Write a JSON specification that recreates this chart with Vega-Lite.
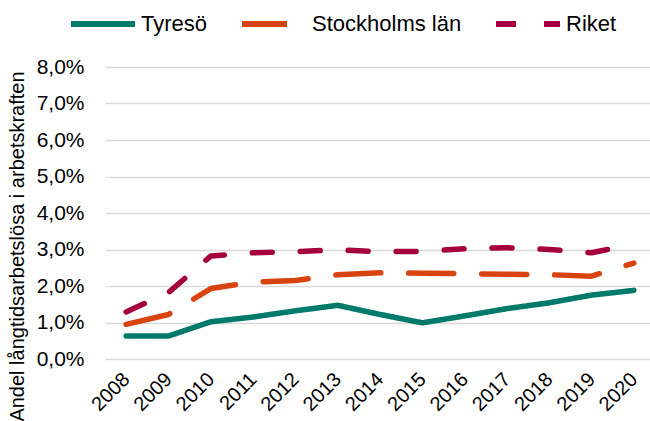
{
  "$schema": "https://vega.github.io/schema/vega-lite/v6.json",
  "autosize": {"type": "none"},
  "width": 550,
  "height": 292,
  "padding": {"left": 105, "top": 67, "right": 0, "bottom": 62},
  "background": "white",
  "config": {
    "font": "Liberation Sans",
    "view": {"stroke": null},
    "locale": {
      "number": {"decimal": ",", "thousands": " ", "grouping": [3], "currency": ["", " kr"]}
    }
  },
  "data": {
    "values": [
      {"year": "2008", "region": "Tyresö", "value": 0.0063},
      {"year": "2009", "region": "Tyresö", "value": 0.0063},
      {"year": "2010", "region": "Tyresö", "value": 0.0102},
      {"year": "2011", "region": "Tyresö", "value": 0.0115},
      {"year": "2012", "region": "Tyresö", "value": 0.0132},
      {"year": "2013", "region": "Tyresö", "value": 0.0147},
      {"year": "2014", "region": "Tyresö", "value": 0.0122},
      {"year": "2015", "region": "Tyresö", "value": 0.0099},
      {"year": "2016", "region": "Tyresö", "value": 0.0118},
      {"year": "2017", "region": "Tyresö", "value": 0.0138},
      {"year": "2018", "region": "Tyresö", "value": 0.0154},
      {"year": "2019", "region": "Tyresö", "value": 0.0175},
      {"year": "2020", "region": "Tyresö", "value": 0.0188},
      {"year": "2008", "region": "Stockholms län", "value": 0.0095},
      {"year": "2009", "region": "Stockholms län", "value": 0.0122},
      {"year": "2010", "region": "Stockholms län", "value": 0.0193},
      {"year": "2011", "region": "Stockholms län", "value": 0.0211},
      {"year": "2012", "region": "Stockholms län", "value": 0.0215},
      {"year": "2013", "region": "Stockholms län", "value": 0.0231},
      {"year": "2014", "region": "Stockholms län", "value": 0.0236},
      {"year": "2015", "region": "Stockholms län", "value": 0.0235},
      {"year": "2016", "region": "Stockholms län", "value": 0.0234},
      {"year": "2017", "region": "Stockholms län", "value": 0.0232},
      {"year": "2018", "region": "Stockholms län", "value": 0.0231},
      {"year": "2019", "region": "Stockholms län", "value": 0.0227},
      {"year": "2020", "region": "Stockholms län", "value": 0.0263},
      {"year": "2008", "region": "Riket", "value": 0.0129},
      {"year": "2009", "region": "Riket", "value": 0.0182},
      {"year": "2010", "region": "Riket", "value": 0.0282},
      {"year": "2011", "region": "Riket", "value": 0.0291},
      {"year": "2012", "region": "Riket", "value": 0.0294},
      {"year": "2013", "region": "Riket", "value": 0.0299},
      {"year": "2014", "region": "Riket", "value": 0.0294},
      {"year": "2015", "region": "Riket", "value": 0.0295},
      {"year": "2016", "region": "Riket", "value": 0.0302},
      {"year": "2017", "region": "Riket", "value": 0.0305},
      {"year": "2018", "region": "Riket", "value": 0.0300},
      {"year": "2019", "region": "Riket", "value": 0.0291},
      {"year": "2020", "region": "Riket", "value": 0.0315}
    ]
  },
  "mark": {"type": "line", "strokeWidth": 5.5, "strokeCap": "round", "strokeJoin": "round", "clip": false},
  "encoding": {
    "x": {
      "field": "year",
      "type": "ordinal",
      "scale": {"type": "point", "padding": 0.5},
      "axis": {
        "title": null,
        "domain": false,
        "ticks": false,
        "grid": false,
        "labelAngle": -45,
        "labelAlign": "right",
        "labelBaseline": "middle",
        "labelPadding": 17,
        "labelFontSize": 20,
        "labelColor": "#000000",
        "labelFont": "Liberation Sans"
      }
    },
    "y": {
      "field": "value",
      "type": "quantitative",
      "scale": {"domain": [0, 0.08], "nice": false},
      "axis": {
        "title": "Andel långtidsarbetslösa i arbetskraften",
        "format": ".1%",
        "values": [0, 0.01, 0.02, 0.03, 0.04, 0.05, 0.06, 0.07, 0.08],
        "domain": false,
        "ticks": false,
        "grid": true,
        "gridColor": "#d9d9d9",
        "gridWidth": 1.5,
        "labelFontSize": 21,
        "labelColor": "#000000",
        "labelPadding": 21,
        "labelFont": "Liberation Sans",
        "titleFont": "Liberation Sans",
        "titleFontSize": 20,
        "titleFontWeight": "normal",
        "titleColor": "#000000",
        "titleX": -88,
        "titleY": 179,
        "titleAlign": "center",
        "titleBaseline": "middle",
        "titleAngle": -90
      }
    },
    "color": {
      "field": "region",
      "type": "nominal",
      "scale": {
        "domain": ["Tyresö", "Stockholms län", "Riket"],
        "range": ["#007B6B", "#D8430F", "#A6003C"]
      },
      "legend": {
        "title": null,
        "orient": "none",
        "direction": "horizontal",
        "legendX": -37,
        "legendY": -78,
        "symbolType": "stroke",
        "symbolSize": 4096,
        "symbolStrokeWidth": 6,
        "labelFontSize": 22,
        "labelColor": "#000000",
        "labelFont": "Liberation Sans",
        "labelOffset": 3,
        "columnPadding": 22
      }
    },
    "strokeDash": {
      "field": "region",
      "type": "nominal",
      "scale": {
        "domain": ["Tyresö", "Stockholms län", "Riket"],
        "range": [[1, 0], [45, 28], [20, 28]]
      },
      "legend": null
    }
  }
}
